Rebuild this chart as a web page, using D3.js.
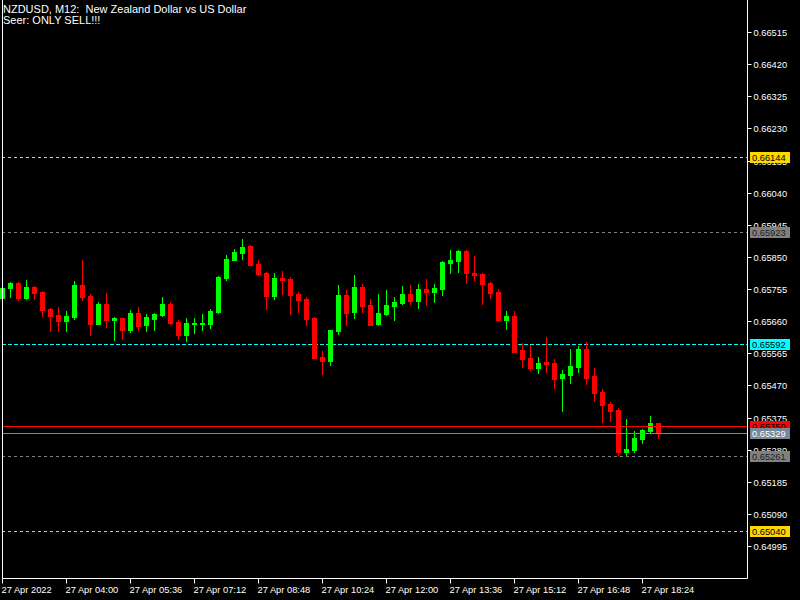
<!DOCTYPE html>
<html>
<head>
<meta charset="utf-8">
<script src="https://cdn.jsdelivr.net/npm/d3@7"></script>
<style>
  body { margin: 0; background: #000; }
  svg { display: block; }
</style>
</head>
<body>
<div id="chart"></div>
<script>
// chart texts
const titleLine = "NZDUSD, M12:  New Zealand Dollar vs US Dollar";
const noteLine = "Seer: ONLY SELL!!!";

// M12 bars, 27 Apr 2022 from 02:24
const opens = [0.65728,0.65758,0.65773,0.65728,0.65761,0.65746,0.65696,0.65678,0.65660,0.65672,
  0.65767,0.65734,0.65652,0.65711,0.65663,0.65669,0.65634,0.65684,0.65649,0.65666,
  0.65678,0.65711,0.65657,0.65619,0.65652,0.65652,0.65652,0.65687,0.65788,0.65841,
  0.65862,0.65882,0.65829,0.65802,0.65734,0.65788,0.65785,0.65740,0.65725,0.65669,
  0.65554,0.65542,0.65631,0.65737,0.65687,0.65761,0.65708,0.65652,0.65681,0.65705,
  0.65714,0.65740,0.65720,0.65755,0.65746,0.65755,0.65832,0.65838,0.65867,0.65802,
  0.65799,0.65773,0.65746,0.65663,0.65675,0.65575,0.65551,0.65521,0.65539,0.65536,
  0.65492,0.65501,0.65524,0.65578,0.65498,0.65451,0.65415,0.65397,0.65273,0.65279,
  0.65311,0.65335,0.65359];
const highs = [0.65760,0.65776,0.65776,0.65782,0.65764,0.65748,0.65699,0.65702,0.65690,0.65779,
  0.65841,0.65740,0.65717,0.65743,0.65672,0.65670,0.65693,0.65702,0.65681,0.65684,
  0.65731,0.65717,0.65663,0.65669,0.65669,0.65681,0.65696,0.65793,0.65856,0.65873,
  0.65903,0.65885,0.65841,0.65805,0.65802,0.65808,0.65790,0.65746,0.65731,0.65672,
  0.65572,0.65634,0.65767,0.65752,0.65796,0.65770,0.65725,0.65740,0.65752,0.65731,
  0.65764,0.65767,0.65770,0.65785,0.65770,0.65838,0.65870,0.65870,0.65870,0.65853,
  0.65802,0.65775,0.65755,0.65690,0.65690,0.65595,0.65589,0.65554,0.65613,0.65548,
  0.65516,0.65578,0.65586,0.65598,0.65521,0.65459,0.65421,0.65403,0.65371,0.65335,
  0.65341,0.65380,0.65359];
const lows = [0.65726,0.65731,0.65722,0.65726,0.65725,0.65675,0.65631,0.65631,0.65631,0.65666,
  0.65722,0.65619,0.65652,0.65643,0.65604,0.65607,0.65628,0.65634,0.65631,0.65634,
  0.65675,0.65652,0.65607,0.65601,0.65625,0.65634,0.65640,0.65684,0.65782,0.65841,
  0.65844,0.65826,0.65796,0.65696,0.65725,0.65740,0.65681,0.65687,0.65649,0.65551,
  0.65504,0.65530,0.65622,0.65649,0.65669,0.65687,0.65649,0.65649,0.65678,0.65663,
  0.65711,0.65711,0.65699,0.65708,0.65717,0.65737,0.65802,0.65805,0.65773,0.65782,
  0.65711,0.65728,0.65660,0.65637,0.65569,0.65524,0.65516,0.65507,0.65510,0.65462,
  0.65394,0.65477,0.65510,0.65474,0.65424,0.65362,0.65365,0.65264,0.65264,0.65273,
  0.65300,0.65329,0.65314];
const closes = [0.65758,0.65773,0.65728,0.65761,0.65743,0.65693,0.65675,0.65660,0.65675,0.65767,
  0.65731,0.65652,0.65711,0.65663,0.65669,0.65634,0.65684,0.65646,0.65672,0.65681,
  0.65711,0.65655,0.65619,0.65655,0.65655,0.65655,0.65690,0.65790,0.65844,0.65864,
  0.65879,0.65826,0.65799,0.65734,0.65788,0.65782,0.65737,0.65722,0.65666,0.65551,
  0.65542,0.65634,0.65737,0.65684,0.65761,0.65705,0.65649,0.65684,0.65708,0.65717,
  0.65740,0.65720,0.65755,0.65746,0.65758,0.65835,0.65841,0.65867,0.65802,0.65796,
  0.65770,0.65743,0.65663,0.65675,0.65569,0.65548,0.65521,0.65536,0.65533,0.65489,
  0.65504,0.65527,0.65578,0.65492,0.65448,0.65412,0.65394,0.65273,0.65282,0.65314,
  0.65338,0.65359,0.65329];

// time axis: bar index of each label
const timeTickBars = [0, 8, 16, 24, 32, 40, 48, 56, 64, 72, 80];
const timeLabels = ["27 Apr 2022", "27 Apr 04:00", "27 Apr 05:36", "27 Apr 07:12", "27 Apr 08:48",
  "27 Apr 10:24", "27 Apr 12:00", "27 Apr 13:36", "27 Apr 15:12", "27 Apr 16:48", "27 Apr 18:24"];

// price axis
const priceTicks = [0.66515, 0.66420, 0.66325, 0.66230, 0.66135, 0.66040, 0.65945, 0.65850,
  0.65755, 0.65660, 0.65565, 0.65470, 0.65375, 0.65280, 0.65185, 0.65090, 0.64995];

// horizontal levels drawn by the expert
const levelPrices = [0.66144, 0.65923, 0.65592, 0.65261, 0.65040];
const levelColors = ["#ffd700", "#808080", "#00ffff", "#808080", "#ffd700"];
const levelText = ["#000", "#1e1e1e", "#000", "#1e1e1e", "#000"];
const askPrice = 0.65350;
const bidPrice = 0.65329;

const width = 800, height = 600;
const plotRight = 747, plotBottom = 578, plotLeft = 2;
const font = "'Liberation Sans', Arial, sans-serif";

const svg = d3.select("#chart").append("svg")
  .attr("width", width)
  .attr("height", height);

svg.append("rect").attr("width", width).attr("height", height).attr("fill", "#000");

// scales
const x = d3.scaleLinear().domain([0, 93]).range([2, 2 + 93 * 8]);
const y = d3.scaleLinear().domain([0.649006, 0.666096]).range([plotBottom, 0]);
const py = v => Math.round(y(v));

// level lines
svg.selectAll(".level")
  .data(levelPrices)
  .enter().append("line")
  .attr("class", "level")
  .attr("x1", plotLeft).attr("x2", plotRight)
  .attr("y1", d => py(d) + 0.5).attr("y2", d => py(d) + 0.5)
  .attr("stroke", (d, i) => levelColors[i])
  .attr("stroke-dasharray", (d, i) => levelColors[i] === "#00ffff" ? "4,2" : "3,3");

// candles
const bars = d3.range(opens.length).map(i => ({
  i, o: opens[i], h: highs[i], l: lows[i], c: closes[i]
}));

const candle = svg.selectAll(".candle")
  .data(bars)
  .enter().append("g")
  .attr("class", "candle")
  .attr("fill", d => d.c >= d.o ? "#00ff00" : "#ff0000")
  .attr("stroke", d => d.c >= d.o ? "#00ff00" : "#ff0000");

candle.append("line")
  .attr("x1", d => Math.round(x(d.i)) + 0.5)
  .attr("x2", d => Math.round(x(d.i)) + 0.5)
  .attr("y1", d => py(d.h))
  .attr("y2", d => py(d.l) + 1);

candle.append("rect")
  .attr("stroke", "none")
  .attr("x", d => Math.round(x(d.i)) - 2)
  .attr("width", 5)
  .attr("y", d => py(Math.max(d.o, d.c)))
  .attr("height", d => Math.max(1, py(Math.min(d.o, d.c)) - py(Math.max(d.o, d.c)) + 1));

// ask / bid lines
svg.append("line")
  .attr("x1", plotLeft).attr("x2", plotRight)
  .attr("y1", py(askPrice) + 0.5).attr("y2", py(askPrice) + 0.5)
  .attr("stroke", "#ff0000");
svg.append("line")
  .attr("x1", plotLeft).attr("x2", plotRight)
  .attr("y1", py(bidPrice) + 0.5).attr("y2", py(bidPrice) + 0.5)
  .attr("stroke", "#778899");

// frame
svg.append("path")
  .attr("d", `M${plotLeft + 0.5},0V${plotBottom + 0.5}H${plotRight + 0.5}V0`)
  .attr("fill", "none")
  .attr("stroke", "#fff");

// price axis
const yAxis = svg.append("g")
  .attr("transform", `translate(${plotRight + 0.5},0)`)
  .call(d3.axisRight(y)
    .tickValues(priceTicks)
    .tickSize(4)
    .tickPadding(2)
    .tickFormat(d3.format(".5f")));
yAxis.select(".domain").remove();
yAxis.selectAll(".tick").attr("transform", d => `translate(0,${py(d) + 0.5})`);
yAxis.selectAll("line").attr("stroke", "#fff");
yAxis.selectAll("text")
  .attr("fill", "#fff")
  .attr("dy", "0.35em")
  .style("font-family", font)
  .style("font-size", "9.3px");

// time axis
const xAxis = svg.append("g")
  .attr("transform", `translate(0,${plotBottom + 0.5})`)
  .call(d3.axisBottom(x)
    .tickValues(timeTickBars)
    .tickSize(5)
    .tickPadding(3)
    .tickFormat((d, i) => timeLabels[i]));
xAxis.select(".domain").remove();
xAxis.selectAll(".tick").attr("transform", d => `translate(${Math.round(x(d)) + 0.5},0)`);
xAxis.selectAll("line").attr("stroke", "#fff");
xAxis.selectAll("text")
  .attr("fill", "#fff")
  .attr("text-anchor", "start")
  .attr("x", -1)
  .style("font-family", font)
  .style("font-size", "9.3px");

// price tags on the axis
const tags = levelPrices.map((p, i) => ({ p, bg: levelColors[i], fg: levelText[i] }))
  .concat([{ p: askPrice, bg: "#ff0000", fg: "#000" }, { p: bidPrice, bg: "#778899", fg: "#fff" }]);

const tag = svg.selectAll(".tag")
  .data(tags)
  .enter().append("g")
  .attr("class", "tag")
  .attr("transform", d => `translate(750,${py(d.p)})`);

tag.append("rect")
  .attr("x", 0).attr("y", -5)
  .attr("width", 40).attr("height", 11)
  .attr("fill", d => d.bg);

tag.append("text")
  .attr("x", 2).attr("y", 4)
  .attr("fill", d => d.fg)
  .style("font-family", font)
  .style("font-size", "9.3px")
  .text(d => d3.format(".5f")(d.p));

// header texts
svg.append("text")
  .attr("x", 3).attr("y", 12.5)
  .attr("fill", "#fff")
  .style("font-family", font)
  .style("font-size", "11px")
  .style("white-space", "pre")
  .text(titleLine);
svg.append("text")
  .attr("x", 3).attr("y", 23.5)
  .attr("fill", "#fff")
  .style("font-family", font)
  .style("font-size", "11px")
  .text(noteLine);
</script>
</body>
</html>
